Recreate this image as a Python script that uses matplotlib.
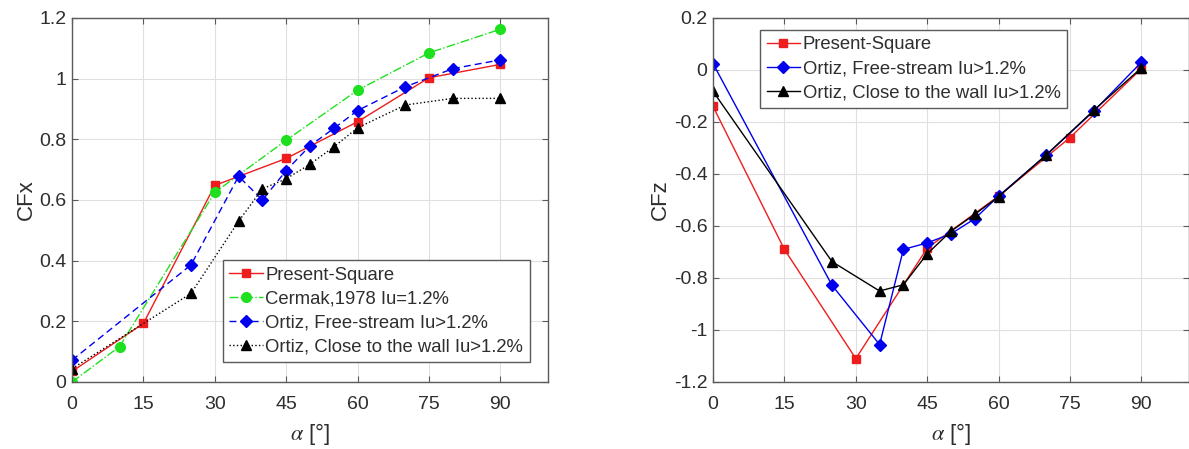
import numpy as np
import matplotlib
matplotlib.use("Agg")
import matplotlib.pyplot as plt

# ---------------------------------------------------------------------------- #
#                                     DATA                                     #
# ---------------------------------------------------------------------------- #
# CFx (left panel)
present_x_ang = [0, 15, 30, 45, 60, 75, 90]
present_cfx = [0.035, 0.193, 0.648, 0.737, 0.858, 1.003, 1.047]

cermak_ang = [0, 10, 30, 45, 60, 75, 90]
cermak_cfx = [0.0, 0.117, 0.625, 0.797, 0.962, 1.085, 1.163]

ortiz_ang = [0, 25, 35, 40, 45, 50, 55, 60, 70, 80, 90]
ortiz_free_cfx = [0.072, 0.386, 0.678, 0.600, 0.697, 0.779, 0.836, 0.895, 0.973, 1.033, 1.062]
ortiz_wall_cfx = [0.044, 0.292, 0.530, 0.637, 0.670, 0.718, 0.775, 0.838, 0.913, 0.935, 0.935]

# CFz (right panel)
present_cfz = [-0.140, -0.690, -1.110, -0.685, -0.485, -0.260, 0.005]
ortiz_free_cfz = [0.025, -0.828, -1.056, -0.690, -0.665, -0.630, -0.572, -0.485, -0.327, -0.158, 0.030]
ortiz_wall_cfz = [-0.082, -0.737, -0.850, -0.826, -0.707, -0.620, -0.555, -0.487, -0.327, -0.155, 0.008]

x_ticks = [0, 15, 30, 45, 60, 75, 90]
cfx_ticks = [0, 0.2, 0.4, 0.6, 0.8, 1.0, 1.2]
cfx_ticklabels = ["0", "0.2", "0.4", "0.6", "0.8", "1", "1.2"]
cfz_ticks = [-1.2, -1.0, -0.8, -0.6, -0.4, -0.2, 0, 0.2]
cfz_ticklabels = ["-1.2", "-1", "-0.8", "-0.6", "-0.4", "-0.2", "0", "0.2"]

# ---------------------------------------------------------------------------- #
#                                     STYLE                                    #
# ---------------------------------------------------------------------------- #
plt.rcParams["font.family"] = ["Liberation Sans", "DejaVu Sans"]
plt.rcParams["mathtext.fontset"] = "stix"

RED = "#ee1c1c"
GREEN = "#1fe01f"
BLUE = "#0000ee"
BLACK = "#000000"
TXT = "#2e2e2e"
SPINE = "#5a5a5a"


def style_axes(ax, yticks, yticklabels, ylim, ylabel):
    ax.set_xlim(0, 100)
    ax.set_ylim(*ylim)
    ax.set_xticks(x_ticks)
    ax.set_xticklabels([str(t) for t in x_ticks])
    ax.set_yticks(yticks)
    ax.set_yticklabels(yticklabels)
    ax.grid(True, color="#e0e0e0", linewidth=0.8)
    ax.set_axisbelow(True)
    ax.tick_params(direction="in", length=4, width=0.8, colors=SPINE,
                   labelcolor=TXT, labelsize=14, top=True, right=True)
    ax.tick_params(axis="x", pad=10)
    ax.tick_params(axis="y", pad=4)
    for sp in ax.spines.values():
        sp.set_color(SPINE)
        sp.set_linewidth(1.0)
    ax.set_xlabel(r"$\alpha$ [°]", fontsize=16, color=TXT, labelpad=6)
    ax.set_ylabel(ylabel, fontsize=16, color=TXT, labelpad=2)


def add_legend(ax, anchor):
    leg = ax.legend(loc="upper left", bbox_to_anchor=anchor, borderaxespad=0,
                    fontsize=13.3, handlelength=1.8, handletextpad=0.15, labelspacing=0.38,
                    borderpad=0.35, fancybox=False, framealpha=1, edgecolor=SPINE)
    leg.get_frame().set_linewidth(1.0)
    for t in leg.get_texts():
        t.set_color(TXT)
    return leg


def main():
    fig = plt.figure(figsize=(11.89, 4.49), dpi=100)

    # ------------------------------- CFx panel ------------------------------ #
    ax1 = fig.add_axes([72 / 1189, 67 / 449, 476 / 1189, 364 / 449])
    ax1.plot(present_x_ang, present_cfx, "-", color=RED, lw=1.0,
             marker="s", ms=6, mfc=RED, mec=RED, label="Present-Square")
    ax1.plot(cermak_ang, cermak_cfx, "-.", color=GREEN, lw=1.0,
             marker="o", ms=7, mfc=GREEN, mec=GREEN, label="Cermak,1978 Iu=1.2%")
    ax1.plot(ortiz_ang, ortiz_free_cfx, "--", color=BLUE, lw=1.0, dashes=(5, 3),
             marker="D", ms=6, mfc=BLUE, mec=BLUE, label="Ortiz, Free-stream Iu>1.2%")
    ax1.plot(ortiz_ang, ortiz_wall_cfx, ":", color=BLACK, lw=1.0,
             marker="^", ms=7, mfc=BLACK, mec=BLACK, label="Ortiz, Close to the wall Iu>1.2%")
    style_axes(ax1, cfx_ticks, cfx_ticklabels, (0, 1.2), "CFx")
    add_legend(ax1, (0.317, 0.335))

    # ------------------------------- CFz panel ------------------------------ #
    ax2 = fig.add_axes([713 / 1189, 67 / 449, 476 / 1189, 364 / 449])
    ax2.plot(present_x_ang, present_cfz, "-", color=RED, lw=1.0,
             marker="s", ms=6, mfc=RED, mec=RED, label="Present-Square")
    ax2.plot(ortiz_ang, ortiz_free_cfz, "-", color=BLUE, lw=1.0,
             marker="D", ms=6, mfc=BLUE, mec=BLUE, label="Ortiz, Free-stream Iu>1.2%")
    ax2.plot(ortiz_ang, ortiz_wall_cfz, "-", color=BLACK, lw=1.0,
             marker="^", ms=7, mfc=BLACK, mec=BLACK, label="Ortiz, Close to the wall Iu>1.2%")
    style_axes(ax2, cfz_ticks, cfz_ticklabels, (-1.2, 0.2), "CFz")
    add_legend(ax2, (0.099, 0.967))

    fig.savefig("out.png", dpi=100)


if __name__ == "__main__":
    main()
